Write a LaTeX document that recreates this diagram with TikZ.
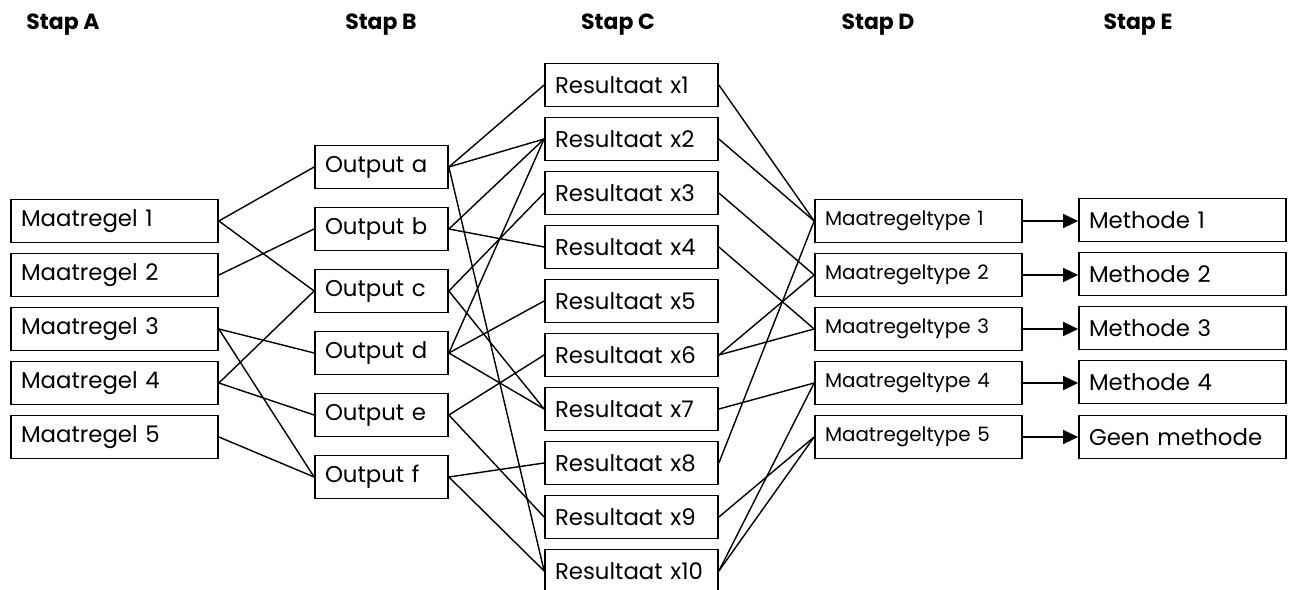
\documentclass[tikz,border=0pt]{standalone}
\usepackage{fontspec}
\setmainfont{Poppins}
\usepackage{tikz}
\usetikzlibrary{arrows.meta, positioning}

\begin{document}
\begin{tikzpicture}[
    x=0.02cm, y=-0.02cm,
    box/.style={draw, line width=1pt, minimum height=0.86cm, inner xsep=0.2cm,
                inner ysep=0pt, align=left, font=\fontsize{13}{15}\selectfont},
    maatbox/.style={box, text width=3.74cm},
    outbox/.style={box, text width=2.26cm},
    resbox/.style={box, text width=3.06cm},
    typebox/.style={box, text width=3.74cm, font=\fontsize{11.3}{13}\selectfont},
    methbox/.style={box, text width=3.74cm},
    stap/.style={font=\fontsize{12.5}{15}\selectfont\bfseries},
    link/.style={line width=0.8pt},
    arrow/.style={-{Triangle[length=0.3cm, width=0.28cm]}, line width=0.8pt},
  ]
    \useasboundingbox (0,0) rectangle (1294,590);

    % Column headers
    \node[stap] (hA) at (63,25)   {Stap A};
    \node[stap] (hB) at (381,25)  {Stap B};
    \node[stap] (hC) at (618,25)  {Stap C};
    \node[stap] (hD) at (878,25)  {Stap D};
    \node[stap] (hE) at (1138,25) {Stap E};

    % Stap A: maatregelen
    \node[maatbox] (m1) at (114.5,221) {Maatregel 1};
    \node[maatbox] (m2) at (114.5,275) {Maatregel 2};
    \node[maatbox] (m3) at (114.5,329) {Maatregel 3};
    \node[maatbox] (m4) at (114.5,383) {Maatregel 4};
    \node[maatbox] (m5) at (114.5,437) {Maatregel 5};

    % Stap B: outputs
    \node[outbox] (oa) at (381.5,167) {Output a};
    \node[outbox] (ob) at (381.5,229) {Output b};
    \node[outbox] (oc) at (381.5,291) {Output c};
    \node[outbox] (od) at (381.5,353) {Output d};
    \node[outbox] (oe) at (381.5,415) {Output e};
    \node[outbox] (of) at (381.5,477) {Output f};

    % Stap C: resultaten
    \node[resbox] (x1)  at (631.5,85)  {Resultaat x1};
    \node[resbox] (x2)  at (631.5,139) {Resultaat x2};
    \node[resbox] (x3)  at (631.5,193) {Resultaat x3};
    \node[resbox] (x4)  at (631.5,247) {Resultaat x4};
    \node[resbox] (x5)  at (631.5,301) {Resultaat x5};
    \node[resbox] (x6)  at (631.5,355) {Resultaat x6};
    \node[resbox] (x7)  at (631.5,409) {Resultaat x7};
    \node[resbox] (x8)  at (631.5,463) {Resultaat x8};
    \node[resbox] (x9)  at (631.5,517) {Resultaat x9};
    \node[resbox] (x10) at (631.5,571) {Resultaat x10};

    % Stap D: maatregeltypen
    \node[typebox] (t1) at (918.5,221) {Maatregeltype 1};
    \node[typebox] (t2) at (918.5,275) {Maatregeltype 2};
    \node[typebox] (t3) at (918.5,329) {Maatregeltype 3};
    \node[typebox] (t4) at (918.5,383) {Maatregeltype 4};
    \node[typebox] (t5) at (918.5,437) {Maatregeltype 5};

    % Stap E: methoden
    \node[methbox] (e1) at (1182.5,220) {Methode 1};
    \node[methbox] (e2) at (1182.5,274) {Methode 2};
    \node[methbox] (e3) at (1182.5,328) {Methode 3};
    \node[methbox] (e4) at (1182.5,382) {Methode 4};
    \node[methbox] (e5) at (1182.5,437) {Geen methode};

    % A -> B
    \draw[link] (m1.east) -- (oa.west);
    \draw[link] (m1.east) -- (oc.west);
    \draw[link] (m2.east) -- (ob.west);
    \draw[link] (m3.east) -- (od.west);
    \draw[link] (m3.east) -- (of.west);
    \draw[link] (m4.east) -- (oc.west);
    \draw[link] (m4.east) -- (oe.west);
    \draw[link] (m5.east) -- (of.west);

    % B -> C
    \draw[link] (oa.east) -- (x1.west);
    \draw[link] (oa.east) -- (x2.west);
    \draw[link] (oa.east) -- (x10.west);
    \draw[link] (ob.east) -- (x2.west);
    \draw[link] (ob.east) -- (x4.west);
    \draw[link] (oc.east) -- (x3.west);
    \draw[link] (oc.east) -- (x7.west);
    \draw[link] (od.east) -- (x2.west);
    \draw[link] (od.east) -- (x5.west);
    \draw[link] (od.east) -- (x7.west);
    \draw[link] (oe.east) -- (x6.west);
    \draw[link] (oe.east) -- (x9.west);
    \draw[link] (of.east) -- (x8.west);
    \draw[link] (of.east) -- (x10.west);

    % C -> D
    \draw[link] (x1.east) -- (t1.west);
    \draw[link] (x2.east) -- (t1.west);
    \draw[link] (x3.east) -- (t2.west);
    \draw[link] (x4.east) -- (t3.west);
    \draw[link] (x6.east) -- (t2.west);
    \draw[link] (x6.east) -- (t3.west);
    \draw[link] (x7.east) -- (t4.west);
    \draw[link] (x8.east) -- (t1.west);
    \draw[link] (x9.east) -- (t5.west);
    \draw[link] (x10.east) -- (t4.west);
    \draw[link] (x10.east) -- (t5.west);

    % D -> E
    \draw[arrow] (t1.east) -- (e1.west |- t1.east);
    \draw[arrow] (t2.east) -- (e2.west |- t2.east);
    \draw[arrow] (t3.east) -- (e3.west |- t3.east);
    \draw[arrow] (t4.east) -- (e4.west |- t4.east);
    \draw[arrow] (t5.east) -- (e5.west |- t5.east);
  \end{tikzpicture}
\end{document}
